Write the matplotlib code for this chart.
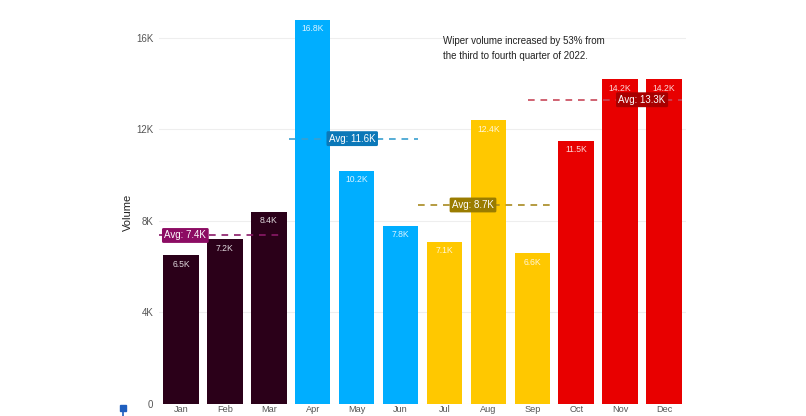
import matplotlib
matplotlib.use("Agg")
import matplotlib.pyplot as plt
from matplotlib.lines import Line2D
from matplotlib.patches import Rectangle

months = ["Jan", "Feb", "Mar", "Apr", "May", "Jun", "Jul", "Aug", "Sep", "Oct", "Nov", "Dec"]
volume = [6.5, 7.2, 8.4, 16.8, 10.2, 7.8, 7.1, 12.4, 6.6, 11.5, 14.2, 14.2]  # thousands
quarter_colors = ["#2b0019", "#00aeff", "#ffc800", "#e80000"]
avg_line_colors = ["#8a1a68", "#3a9fd0", "#a88a20", "#c8485a"]
avg_box_colors = ["#8c0c63", "#0b78b8", "#9a7c00", "#a80000"]
quarter_avgs = [7.4, 11.6, 8.7, 13.3]
yticks = [0, 4, 8, 12, 16]
ytick_labels = ["0", "4K", "8K", "12K", "16K"]
note = "Wiper volume increased by 53% from\nthe third to fourth quarter of 2022."

plt.rcParams["font.family"] = ["Liberation Sans", "DejaVu Sans"]
fig = plt.figure(figsize=(8.06, 4.16), dpi=100)
ax = fig.add_axes([159 / 806, 12 / 416, 527 / 806, 404 / 416])

x = list(range(len(months)))
colors = [quarter_colors[i // 3] for i in x]
ax.bar(x, volume, width=0.81, color=colors, zorder=2)
for xi, v in zip(x, volume):
    ax.text(xi, v - 0.2, f"{v:.1f}K", ha="center", va="top", color="white",
            fontsize=6.2, alpha=0.85, zorder=4)

ax.set_xlim(-0.5, 11.5)
ax.set_ylim(0, 17.66)
ax.set_yticks(yticks)
ax.set_yticklabels(ytick_labels)
ax.set_xticks(x)
ax.set_xticklabels(months)
ax.tick_params(axis="y", length=0, labelsize=7, colors="#555555", pad=4)
ax.tick_params(axis="x", length=0, labelsize=6.6, colors="#555555", pad=1)
ax.grid(axis="y", color="#eeeeee", linewidth=0.8, zorder=0)
for s in ax.spines.values():
    s.set_visible(False)
ax.set_ylabel("Volume", fontsize=8, color="#222222")
ax.yaxis.set_label_coords(-0.05, 0.475)

# quarter average lines and labels
line_spans = [(-0.5, 2.35), (2.45, 5.4), (5.4, 8.4), (7.9, 11.4)]
label_pos = [0.1, 3.9, 6.65, 10.5]
avg_exact = [sum(volume[q * 3:q * 3 + 3]) / 3 for q in range(4)]
for q in range(4):
    y = avg_exact[q]
    x0, x1 = line_spans[q]
    ax.plot([x0, x1], [y, y], linestyle=(0, (4, 3.5)), color=avg_line_colors[q],
            linewidth=1.2, zorder=3)
    ax.text(label_pos[q], y, f"Avg: {quarter_avgs[q]}K", ha="center", va="center",
            fontsize=7, color="white", zorder=5,
            bbox=dict(boxstyle="round,pad=0.25,rounding_size=0.15",
                      facecolor=avg_box_colors[q], edgecolor="none"))

fig.text(443 / 806, 1 - 36 / 416, note, ha="left", va="top", fontsize=7,
         color="#222222", linespacing=1.6)

# small blue marker at bottom left
fig.add_artist(Line2D([123 / 806, 123 / 806], [0, 8 / 416], color="#1f5fbf",
                      linewidth=1.2, transform=fig.transFigure))
fig.add_artist(Rectangle((120 / 806, 5 / 416), 6 / 806, 6 / 416, color="#1f5fbf",
                         transform=fig.transFigure))

fig.savefig("out.png", dpi=100)
